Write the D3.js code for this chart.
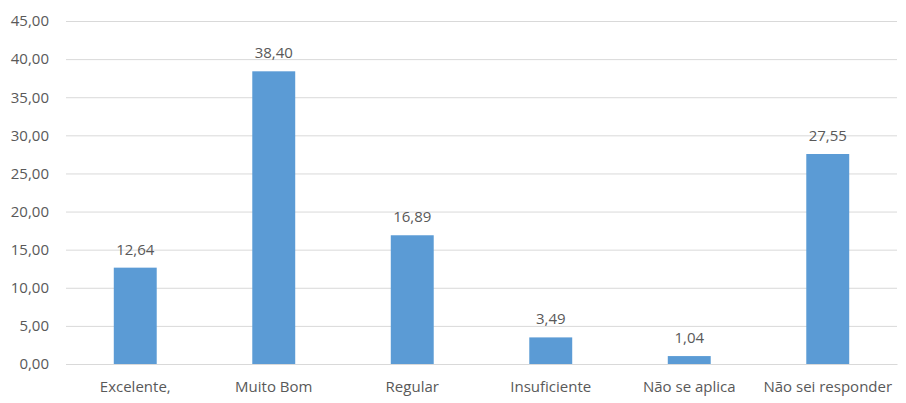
<!DOCTYPE html>
<html><head><meta charset="utf-8">
<script src="https://cdn.jsdelivr.net/npm/d3@7"></script>
<style>body{margin:0;background:#fff}svg{display:block}text{font-family:"Open Sans",sans-serif;fill:#595959}</style>
</head><body><svg id="c" width="906" height="403"></svg>
<script>
const categories = ["Excelente,", "Muito Bom", "Regular", "Insuficiente", "Não se aplica", "Não sei responder"];
const values = [12.64, 38.40, 16.89, 3.49, 1.04, 27.55];
const yTicks = [0, 5, 10, 15, 20, 25, 30, 35, 40, 45];

const svg = d3.select("#c");
const m = {l: 66, r: 9, t: 21, b: 39};
const W = 906, H = 403;
const fmt = v => v.toFixed(2).replace(".", ",");
const x = d3.scaleBand().domain(categories).range([m.l, W - m.r]).paddingInner(0.69).paddingOuter(0.345);
const y = d3.scaleLinear().domain([0, 45]).range([H - m.b, m.t]);

const gy = svg.append("g").attr("transform", `translate(${m.l},0)`)
  .call(d3.axisLeft(y).tickValues(yTicks).tickFormat(fmt).tickSize(-(W - m.l - m.r)).tickPadding(17));
gy.select(".domain").remove();
gy.selectAll(".tick line").attr("stroke", "#d9d9d9").attr("stroke-width", 1);
gy.selectAll(".tick text").attr("font-size", 15).style("fill", "#595959");

svg.append("g").selectAll("rect").data(values).join("rect")
  .attr("x", (d, i) => x(categories[i])).attr("width", x.bandwidth())
  .attr("y", d => y(d)).attr("height", d => y(0) - y(d)).attr("fill", "#5b9bd5");

svg.append("g").selectAll("text").data(values).join("text")
  .attr("x", (d, i) => x(categories[i]) + x.bandwidth() / 2).attr("y", d => y(d) - 13)
  .attr("text-anchor", "middle").attr("font-size", 15).text(fmt);

const gx = svg.append("g").attr("transform", `translate(0,${y(0)})`)
  .call(d3.axisBottom(x).tickSize(0).tickPadding(17.5));
gx.select(".domain").attr("stroke", "#d9d9d9");
gx.selectAll(".tick text").attr("font-size", 15).style("fill", "#595959").attr("dy", "0.71em");
</script></body></html>
